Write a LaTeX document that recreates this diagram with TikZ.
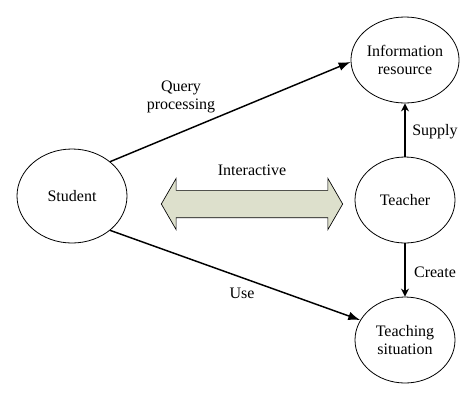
\documentclass[tikz,border=0pt]{standalone}
\usepackage{fontspec}
\setmainfont{Liberation Serif}
\usepackage{tikz}
\usetikzlibrary{arrows.meta,shapes.geometric,shapes.arrows,positioning}

\tikzset{
  actor/.style={draw, ellipse, line width=0.6pt, align=center,
    minimum width=75pt, minimum height=64.5pt, inner sep=0pt},
  link/.style={line width=1.1pt, -{Latex[length=9pt,width=6.5pt]}},
  vlink/.style={line width=1.1pt, -{Stealth[length=6pt,width=6pt]}},
  tag/.style={align=center}
}

\begin{document}
\begin{tikzpicture}[x=0.75pt,y=-0.75pt,font=\fontsize{12}{13.5}\selectfont]

\useasboundingbox (0,0) rectangle (474,401);

% ellipses
\node[actor, minimum width=82.5pt, minimum height=70.5pt] (student) at (72,196) {Student};
\node[actor] (info) at (405,60) {Information\\resource};
\node[actor] (teacher) at (405,200) {Teacher};
\node[actor] (situation) at (405,340) {Teaching\\situation};

% connections
\draw[link] (student.42) -- (info.182);
\draw[link] (student.-42) -- (situation.156);
\draw[vlink] (teacher.north) -- (info.south);
\draw[vlink] (teacher.south) -- (situation.north);

% interaction arrow
\node[double arrow, draw, line width=0.5pt, fill={rgb,255:red,221;green,224;blue,204},
  inner xsep=0pt, inner ysep=10pt, minimum width=37.5pt, minimum height=136pt,
  double arrow head extend=9pt, double arrow tip angle=120] (inter) at (252,204) {};
\node[tag] (intertag) at (252,170) {Interactive};

% labels
\node[tag] (query) at (181,97) {Query\\processing};
\node[tag] (use) at (242,293) {Use};
\node[tag] (supply) at (435,132) {Supply};
\node[tag] (create) at (435,272) {Create};

\end{tikzpicture}
\end{document}
